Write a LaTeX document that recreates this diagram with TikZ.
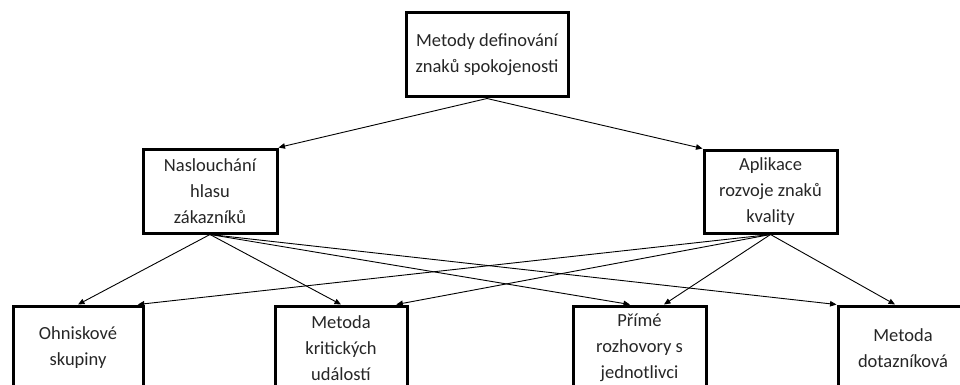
\documentclass[tikz,border=0pt]{standalone}
\usepackage{fontspec}
\setmainfont{Carlito}
\usetikzlibrary{arrows.meta,calc}
\begin{document}
\begin{tikzpicture}[x=1pt,y=-1pt,
  box/.style={draw=black,line width=3pt,rectangle,inner sep=0pt,
    align=center,font=\fontsize{18.5}{26}\selectfont,text=black!85},
  link/.style={draw=black,line width=0.9pt,-{Triangle[length=6.5pt,width=5.5pt]}}]
\useasboundingbox (0,0) rectangle (960,385);
\clip (0,0) rectangle (960,385);
\fill[white] (0,0) rectangle (960,385);
% top level
\node[box,minimum width=162pt,minimum height=84pt] (top) at (487,55) {Metody definování\\znaků spokojenosti};
% middle level
\node[box,minimum width=134pt,minimum height=84pt] (left) at (210,191) {Naslouchání\\hlasu\\zákazníků};
\node[box,minimum width=133pt,minimum height=83pt] (right) at (770.5,191.5) {Aplikace\\rozvoje znaků\\kvality};
% bottom level
\node[box,minimum width=130pt,minimum height=84pt] (ohn) at (78,348) {Ohniskové\\skupiny};
\node[box,minimum width=132pt,minimum height=84pt] (krit) at (341,348) {Metoda\\kritických\\událostí};
\node[box,minimum width=133pt,minimum height=84pt] (prime) at (639.5,348) {Přímé\\rozhovory s\\jednotlivci};
\node[box,minimum width=130pt,minimum height=84pt] (dot) at (903,348) {Metoda\\dotazníková};
% arrow targets along the top edges
\coordinate (lp) at ($(prime.north west)!0.43!(prime.north east)$);
\coordinate (ro) at ($(ohn.north west)!0.95!(ohn.north east)$);
\coordinate (rk) at ($(krit.north west)!0.91!(krit.north east)$);
\coordinate (rp) at ($(prime.north west)!0.68!(prime.north east)$);
\coordinate (rd) at ($(dot.north west)!0.44!(dot.north east)$);
% connectors
\draw[link] (top.south) -- (left.north east);
\draw[link] (top.south) -- (right.north west);
\draw[link] (left.south) -- (ohn.north);
\draw[link] (left.south) -- (krit.north);
\draw[link] (left.south) -- (lp);
\draw[link] (left.south) -- (dot.north west);
\draw[link] (right.south) -- (ro);
\draw[link] (right.south) -- (rk);
\draw[link] (right.south) -- (rp);
\draw[link] (right.south) -- (rd);
\end{tikzpicture}
\end{document}
